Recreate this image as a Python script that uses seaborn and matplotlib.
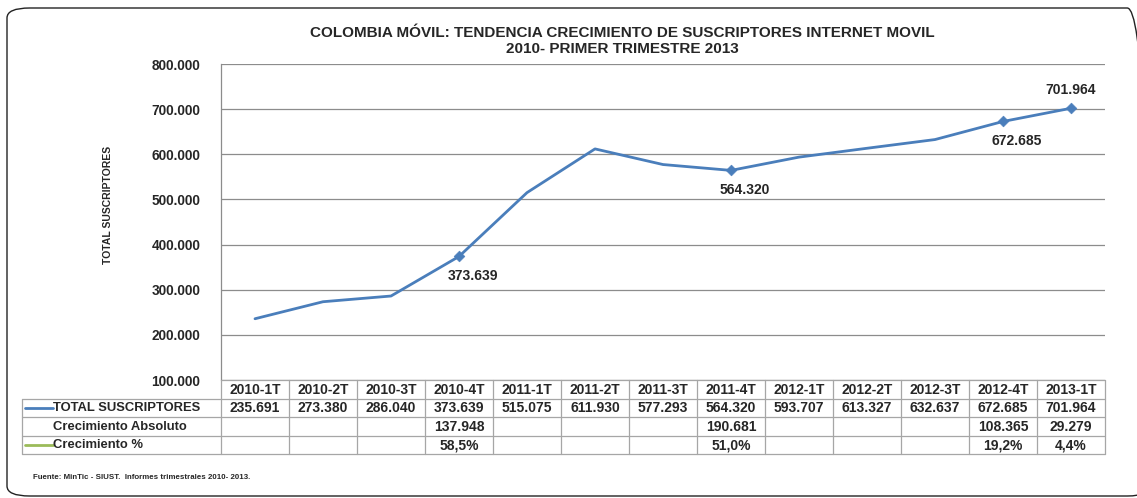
import matplotlib
matplotlib.use("Agg")
import matplotlib.pyplot as plt
import seaborn as sns
import pandas as pd
from matplotlib.patches import FancyBboxPatch
from matplotlib.lines import Line2D

periods = ["2010-1T", "2010-2T", "2010-3T", "2010-4T", "2011-1T", "2011-2T", "2011-3T",
           "2011-4T", "2012-1T", "2012-2T", "2012-3T", "2012-4T", "2013-1T"]
total = [235691, 273380, 286040, 373639, 515075, 611930, 577293,
         564320, 593707, 613327, 632637, 672685, 701964]
crec_abs = ["", "", "", "137.948", "", "", "", "190.681", "", "", "", "108.365", "29.279"]
crec_pct = ["", "", "", "58,5%", "", "", "", "51,0%", "", "", "", "19,2%", "4,4%"]
marked = ["2010-4T", "2011-4T", "2012-4T", "2013-1T"]
yticks = [100000, 200000, 300000, 400000, 500000, 600000, 700000, 800000]

title = "COLOMBIA MÓVIL: TENDENCIA CRECIMIENTO DE SUSCRIPTORES INTERNET MOVIL\n2010- PRIMER TRIMESTRE 2013"
source = "Fuente: MinTic - SIUST.  Informes trimestrales 2010- 2013."

def fmt(v):
    return f"{v:,}".replace(",", ".")

sns.set_style("white")
plt.rcParams['font.family'] = ['Liberation Sans', 'DejaVu Sans']

W, H = 1137, 498
fig = plt.figure(figsize=(W / 100, H / 100), dpi=100)

def px(l, t, r, b):
    return [l / W, 1 - b / H, (r - l) / W, (b - t) / H]

blue = "#4A7EBB"
green = "#9BBB59"

# outer rounded border
fig.patches.append(FancyBboxPatch((7 / W, 1 - 496 / H), (1150 - 7) / W, (496 - 8) / H,
                                  boxstyle="round,pad=0,rounding_size=0.02",
                                  transform=fig.transFigure, fill=False,
                                  edgecolor="#222222", linewidth=1.0))

ax = fig.add_axes(px(221, 64, 1105, 380))
df = pd.DataFrame({"period": periods, "total": total})
df["x"] = range(len(periods))
sns.lineplot(data=df, x="x", y="total", ax=ax, color=blue, linewidth=2.0)
dm = df[df["period"].isin(marked)]
sns.scatterplot(data=dm, x="x", y="total", ax=ax, color=blue, marker="D", s=30,
                edgecolor=blue, zorder=5)
for _, r in dm.iterrows():
    if r["period"] == periods[-1]:
        ax.annotate(fmt(r["total"]), (r["x"], r["total"]), xytext=(0, 8),
                    textcoords="offset points", ha="center", va="bottom",
                    fontsize=10, fontweight="bold")
    else:
        ax.annotate(fmt(r["total"]), (r["x"], r["total"]), xytext=(10, -9),
                    textcoords="offset points", ha="center", va="top",
                    fontsize=10, fontweight="bold")

ax.set_xlim(-0.5, len(periods) - 0.5)
ax.set_ylim(100000, 800000)
ax.set_yticks(yticks)
ax.set_yticklabels([fmt(v) for v in yticks], fontsize=9.8, fontweight="bold")
ax.tick_params(axis="y", length=0, pad=15)
ax.set_xticks([])
ax.set_xlabel("")
ax.set_ylabel("")
ax.grid(axis="y", color="#8c8c8c", linewidth=0.9)
for s in ["top", "right", "bottom"]:
    ax.spines[s].set_visible(False)
ax.spines["left"].set_color("#8c8c8c")
ax.spines["left"].set_linewidth(0.9)

fig.text(108 / W, 1 - 205 / H, "TOTAL SUSCRIPTORES", rotation=90, ha="center",
         va="center", fontsize=7.5, fontweight="bold")

fig.text(622 / W, 1 - 41 / H, title, ha="center", va="center", fontsize=11,
         fontweight="bold", linespacing=1.12)

# data table
n = len(periods)
lab_w = (221 - 22) / 68.0
tax = fig.add_axes(px(22, 380, 1105, 454))
tax.set_xlim(-0.5 - lab_w, n - 0.5)
tax.set_ylim(4, 0)
tax.axis("off")
gc = "#a6a6a6"
lw = 0.9
x0 = -0.5 - lab_w
xl = -0.5
xr = n - 0.5
tax.plot([xl, xr], [0, 0], color=gc, lw=lw, clip_on=False)
for yy in [1, 2, 3, 4]:
    tax.plot([x0, xr], [yy, yy], color=gc, lw=lw, clip_on=False)
tax.plot([x0, x0], [1, 4], color=gc, lw=lw, clip_on=False)
for i in range(n + 1):
    tax.plot([i - 0.5, i - 0.5], [0, 4], color=gc, lw=lw, clip_on=False)

fs = 10
for i, p in enumerate(periods):
    tax.text(i, 0.52, p, ha="center", va="center", fontsize=fs, fontweight="bold")
    tax.text(i, 1.52, fmt(total[i]), ha="center", va="center", fontsize=fs, fontweight="bold")
    tax.text(i, 2.52, crec_abs[i], ha="center", va="center", fontsize=fs, fontweight="bold")
    tax.text(i, 3.52, crec_pct[i], ha="center", va="center", fontsize=fs, fontweight="bold")

lx0 = x0 + 0.05
lx1 = x0 + 0.46
tax.add_line(Line2D([lx0, lx1], [1.5, 1.5], color=blue, lw=2.0))
tax.add_line(Line2D([lx0, lx1], [3.5, 3.5], color=green, lw=2.0))
lf = 9.4
tax.text(lx1, 1.52, "TOTAL SUSCRIPTORES", ha="left", va="center", fontsize=lf, fontweight="bold")
tax.text(lx1, 2.52, "Crecimiento Absoluto", ha="left", va="center", fontsize=lf, fontweight="bold")
tax.text(lx1, 3.52, "Crecimiento %", ha="left", va="center", fontsize=lf, fontweight="bold")

fig.text(33 / W, 1 - 477 / H, source, ha="left", va="center", fontsize=5.7, fontweight="bold")

fig.savefig("out.png", dpi=100)
